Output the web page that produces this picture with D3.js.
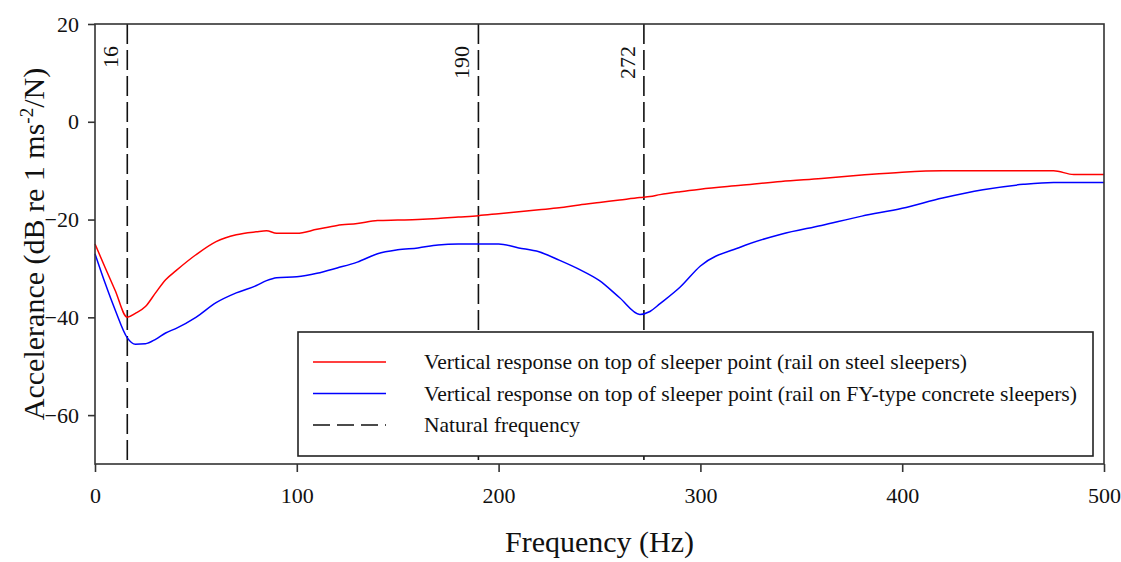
<!DOCTYPE html>
<html>
<head>
<meta charset="utf-8" />
<title>accelerance</title>
<script src="https://cdn.jsdelivr.net/npm/d3@7/dist/d3.min.js"></script>
<style>
	body { margin: 0; background: #fff; }
	text { font-family: "Liberation Serif", "Times New Roman", serif; fill: #111; }
</style>
</head>
<body>
<div id="chart"></div>
<script>

// frequencies (Hz) shared by both curves
const freq = [0, 5, 10, 16, 20, 25, 30, 35, 40, 50, 60, 70, 80, 85, 90, 100, 110, 120, 130, 140,
	150, 160, 170, 180, 190, 200, 210, 220, 230, 240, 250, 260, 270, 275, 280, 290, 300,
	320, 340, 360, 380, 400, 420, 440, 460, 475, 485, 500];

// rail on steel sleepers (red)
const steel = [-25, -29.8, -34.5, -40, -39.2, -37.8, -35, -32.3, -30.5, -27.2, -24.5, -23.1, -22.5, -22.3, -22.8, -22.8, -22, -21.2, -20.8, -20.2,
	-20.1, -20, -19.8, -19.5, -19.2, -18.8, -18.4, -18, -17.6, -17, -16.5, -16, -15.5, -15.3, -14.9, -14.3, -13.8,
	-13, -12.2, -11.6, -10.9, -10.3, -10, -10, -10, -10, -10.8, -10.8];

// rail on FY-type concrete sleepers (blue)
const concrete = [-27, -33, -38.5, -44.2, -45.5, -45.4, -44.5, -43.2, -42.3, -40, -37, -35, -33.5, -32.5, -31.9, -31.7, -31, -29.9, -28.7, -27,
	-26.2, -25.8, -25.2, -25, -25, -25, -25.8, -26.6, -28.3, -30.2, -32.5, -36, -39.4, -38.8, -37.2, -33.8, -29.5,
	-25.6, -23, -21.2, -19.3, -17.7, -15.6, -13.9, -12.8, -12.4, -12.4, -12.4];

const natural = [16, 190, 272];
const xTicks = [0, 100, 200, 300, 400, 500];
const yTicks = [20, 0, -20, -40, -60];
const legendLabels = [
	"Vertical response on top of sleeper point (rail on steel sleepers)",
	"Vertical response on top of sleeper point (rail on FY-type concrete sleepers)",
	"Natural frequency"
];

const W = 1121, H = 562;
const margin = {top: 24, right: 17, bottom: 98, left: 95};
const w = W - margin.left - margin.right;
const h = H - margin.top - margin.bottom;

let svg = d3.select("#chart").append("svg")
	.attr("width", W)
	.attr("height", H);

let g = svg.append("g").attr("transform", `translate(${margin.left},${margin.top})`);

let x = d3.scaleLinear().domain([0, 500]).range([0, w]);
let y = d3.scaleLinear().domain([-70, 20]).range([h, 0]);

// natural frequency lines
g.selectAll(".nat")
	.data(natural)
	.enter().append("line")
	.attr("x1", d => x(d)).attr("x2", d => x(d))
	.attr("y1", 0).attr("y2", h)
	.attr("stroke", "#111")
	.attr("stroke-width", 1.6)
	.attr("stroke-dasharray", "20,6");

g.selectAll(".natlabel")
	.data(natural)
	.enter().append("text")
	.attr("transform", d => `translate(${x(d) - 9},${22}) rotate(-90)`)
	.attr("text-anchor", "end")
	.style("font-size", "22px")
	.text(d => d);

// curves
let line = d3.line()
	.x((d, i) => x(freq[i]))
	.y(d => y(d))
	.curve(d3.curveMonotoneX);

g.append("path").datum(steel)
	.attr("d", line)
	.attr("fill", "none")
	.attr("stroke", "#ff0000")
	.attr("stroke-width", 1.5);

g.append("path").datum(concrete)
	.attr("d", line)
	.attr("fill", "none")
	.attr("stroke", "#0000ff")
	.attr("stroke-width", 1.5);

// frame + axes
g.append("rect")
	.attr("width", w).attr("height", h)
	.attr("fill", "none")
	.attr("stroke", "#333")
	.attr("stroke-width", 1.6);

let xAxis = g.append("g")
	.attr("transform", `translate(0,${h})`)
	.call(d3.axisBottom(x).tickValues(xTicks).tickSize(8).tickPadding(15).tickFormat(d3.format("d")));
let yAxis = g.append("g")
	.call(d3.axisLeft(y).tickValues(yTicks).tickSize(7).tickPadding(9).tickFormat(d3.format("d")));

[xAxis, yAxis].forEach(a => {
	a.select(".domain").remove();
	a.selectAll(".tick line").attr("stroke", "#333").attr("stroke-width", 1.6);
	a.selectAll(".tick text")
		.attr("fill", "#111")
		.style("font-family", "'Liberation Serif', serif")
		.style("font-size", "22px");
});

// legend
let lg = g.append("g").attr("transform", `translate(${298 - margin.left},${332 - margin.top})`);
lg.append("rect")
	.attr("width", 795).attr("height", 124)
	.attr("fill", "#fff")
	.attr("stroke", "#222")
	.attr("stroke-width", 1.6);

const legendStyles = [
	{stroke: "#ff0000", dash: null},
	{stroke: "#0000ff", dash: null},
	{stroke: "#111", dash: "17,7"}
];
const legendWidths = [543, 653, 156];

legendLabels.forEach((t, i) => {
	let yy = 30 + i * 31.5;
	lg.append("line")
		.attr("x1", 15).attr("x2", 88)
		.attr("y1", yy).attr("y2", yy)
		.attr("stroke", legendStyles[i].stroke)
		.attr("stroke-width", 1.6)
		.attr("stroke-dasharray", legendStyles[i].dash);
	lg.append("text")
		.attr("x", 126).attr("y", yy + 7)
		.attr("textLength", legendWidths[i])
		.attr("lengthAdjust", "spacingAndGlyphs")
		.style("font-size", "22px")
		.text(t);
});

// axis titles
svg.append("text")
	.attr("x", margin.left + w / 2)
	.attr("y", 552)
	.attr("text-anchor", "middle")
	.style("font-size", "30px")
	.text("Frequency (Hz)");

let yt = svg.append("text")
	.attr("transform", `translate(44,${margin.top + h / 2}) rotate(-90)`)
	.attr("text-anchor", "middle")
	.style("font-size", "30px");
yt.append("tspan").text("Accelerance (dB re 1 ms");
yt.append("tspan").attr("dy", -11).style("font-size", "19px").text("-2");
yt.append("tspan").attr("dy", 11).text("/N)");

</script>
</body>
</html>
